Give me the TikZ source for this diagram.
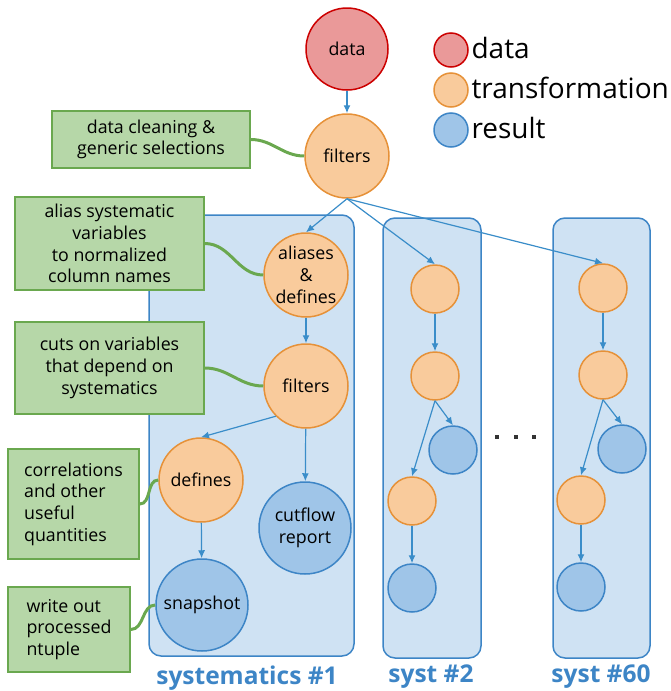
\documentclass[tikz,border=0pt]{standalone}
\usepackage{fontspec}
\setmainfont{Open Sans}
\usetikzlibrary{arrows.meta,positioning}
\definecolor{datared}{HTML}{EA9999}
\definecolor{datadraw}{HTML}{CC0000}
\definecolor{trorange}{HTML}{F9CB9C}
\definecolor{trdraw}{HTML}{E69138}
\definecolor{resblue}{HTML}{9FC5E8}
\definecolor{resdraw}{HTML}{3D85C6}
\definecolor{boxblue}{HTML}{CFE2F3}
\definecolor{arrowblue}{HTML}{3A8DC9}
\definecolor{notegreen}{HTML}{B6D7A8}
\definecolor{notedraw}{HTML}{6AA84F}

\begin{document}
\begin{tikzpicture}[x=1pt,y=-1pt,font=\fontsize{17.8}{21.7}\selectfont,
  datanode/.style={circle, draw=datadraw, fill=datared, line width=1.5pt, inner sep=0pt, minimum size=82pt},
  trnode/.style={circle, draw=trdraw, fill=trorange, line width=1.5pt, inner sep=0pt, minimum size=#1},
  trnode/.default=84pt,
  resnode/.style={circle, draw=resdraw, fill=resblue, line width=1.5pt, inner sep=0pt, minimum size=#1},
  resnode/.default=92pt,
  systbox/.style={draw=resdraw, fill=boxblue, line width=1.5pt, rounded corners=12pt, inner sep=0pt},
  note/.style={draw=notedraw, fill=notegreen, line width=1.5pt, inner sep=0pt, align=center},
  link/.style={-{Latex[length=8pt,width=7pt]}, line width=1.2pt, arrowblue},
  explain/.style={line width=3pt, notedraw, out=0, in=180},
  boxlabel/.style={text=resdraw, font=\fontsize{24.5}{28}\selectfont\bfseries},
  legend/.style={circle, line width=1.5pt, inner sep=0pt, minimum size=34pt},
  legtext/.style={anchor=west, font=\fontsize{28}{31}\selectfont}]
\useasboundingbox (0,0) rectangle (670,691);

% systematic variations
\node[systbox, minimum width=205pt, minimum height=441pt] (box1) at (251.5,435.5) {};
\node[systbox, minimum width=98pt, minimum height=440pt] (box2) at (432,438) {};
\node[systbox, minimum width=97pt, minimum height=440pt] (box60) at (601.5,438) {};
\node[boxlabel] (lab1) at (247,678) {systematics \#1};
\node[boxlabel] (lab2) at (431,677) {syst \#2};
\node[boxlabel] (lab60) at (601,677) {syst \#60};

% main chain
\node[datanode] (data) at (347,49) {data};
\node[trnode] (filt) at (347,156) {filters};
\node[trnode, align=center] (alias) at (306,275) {aliases\\\&\\defines};
\node[trnode] (filtsys) at (306,386) {filters};
\node[trnode] (defs) at (201,480) {defines};
\node[resnode] (cutflow) at (305,528) {};
\node[align=center] at (cutflow) {cutflow\\report};
\node[resnode] (snap) at (202,605) {snapshot};

% syst #2
\node[trnode=48pt] (s2a) at (435,289) {};
\node[trnode=48pt] (s2b) at (435,376) {};
\node[resnode=48pt] (s2c) at (453,450) {};
\node[trnode=48pt] (s2d) at (412,501) {};
\node[resnode=48pt] (s2e) at (412,588) {};

% syst #60
\node[trnode=48pt] (s60a) at (603,288) {};
\node[trnode=48pt] (s60b) at (603,375) {};
\node[resnode=48pt] (s60c) at (622,449) {};
\node[trnode=48pt] (s60d) at (581,500) {};
\node[resnode=48pt] (s60e) at (581,587) {};

\foreach \x in {497,516,534}
  \fill[black!80] (\x-2,435) rectangle (\x+2,439);

% arrows
\draw[link] (data) -- (filt);
\draw[link] (filt.south) -- (alias.north);
\draw[link] (filt.south) -- (s2a.north);
\draw[link] (filt.south) -- (s60a.north);
\draw[link] (alias) -- (filtsys);
\draw[link] (filtsys.south west) -- (defs.north);
\draw[link] (filtsys) -- (cutflow);
\draw[link] (defs) -- (snap);
\draw[link] (s2a) -- (s2b);
\draw[link] (s2b.south) -- (s2c.north);
\draw[link] (s2b.south) -- (s2d.north);
\draw[link] (s2d) -- (s2e);
\draw[link] (s60a) -- (s60b);
\draw[link] (s60b.south) -- (s60c.north);
\draw[link] (s60b.south) -- (s60d.north);
\draw[link] (s60d) -- (s60e);

% notes
\node[note, minimum width=198pt, minimum height=57pt] (nclean) at (151,139.5) {data cleaning \&\\generic selections};
\node[note, minimum width=189pt, minimum height=93pt] (nalias) at (109.5,243.5) {alias systematic\\variables\\to normalized\\column names};
\node[note, minimum width=189pt, minimum height=92pt] (ncuts) at (109.5,368) {cuts on variables\\that depend on\\systematics};
\node[note, minimum width=131pt, minimum height=110pt, align=left] (ncorr) at (73.5,504) {correlations\\and other\\useful\\quantities};
\node[note, minimum width=122pt, minimum height=85pt, align=left] (nwrite) at (69,629.5) {write out\\processed\\ntuple};
\draw[explain] (nclean.east) to (filt.west);
\draw[explain] (nalias.east) to (alias.west);
\draw[explain] (ncuts.east) to (filtsys.west);
\draw[explain] (ncorr.east) to (defs.west);
\draw[explain] (nwrite.east) to (snap.west);

% legend
\node[legend, draw=datadraw, fill=datared] (legdata) at (451,50) {};
\node[legend, draw=trdraw, fill=trorange] (legtr) at (451,90) {};
\node[legend, draw=resdraw, fill=resblue] (legres) at (451,130) {};
\node[legtext] (tdata) at (468,48) {data};
\node[legtext] (ttr) at (468,88) {transformation};
\node[legtext] (tres) at (468,128) {result};
\end{tikzpicture}
\end{document}
